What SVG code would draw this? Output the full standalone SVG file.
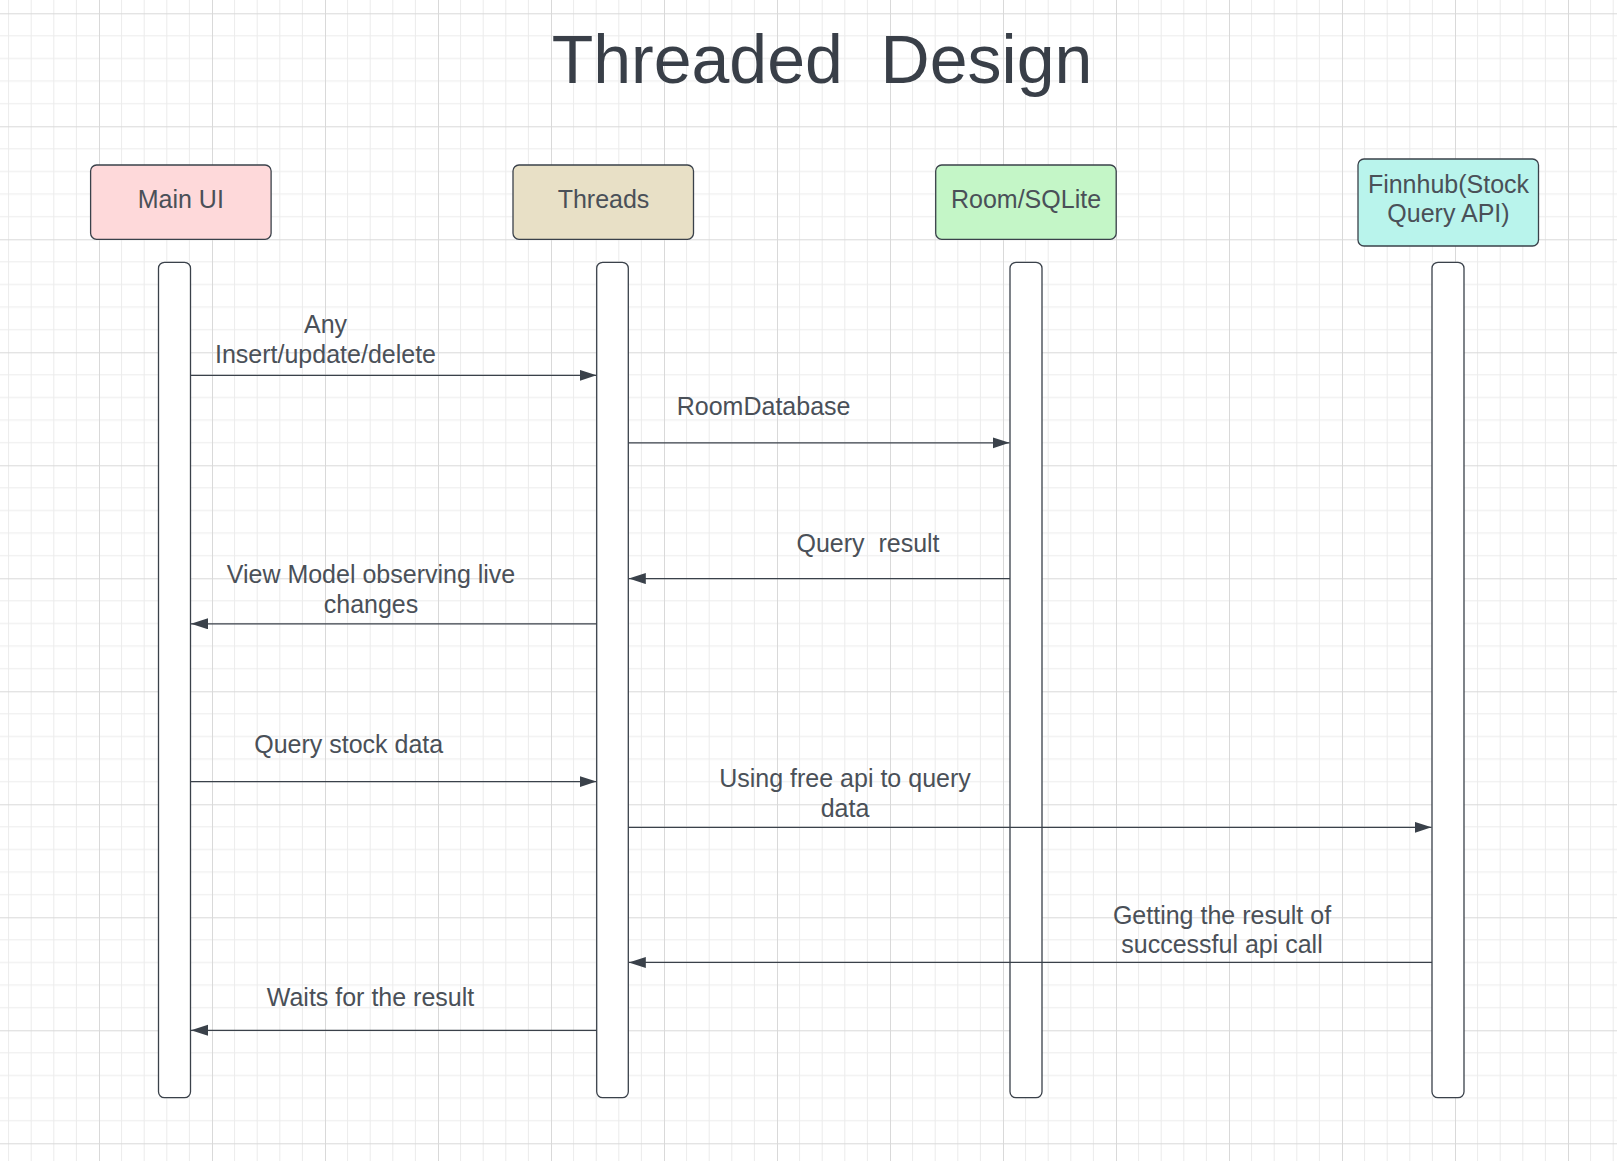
<svg xmlns="http://www.w3.org/2000/svg" width="1617" height="1161" viewBox="0 0 1617 1161">
<defs>
<pattern id="grid" patternUnits="userSpaceOnUse" x="99" y="13.3" width="113" height="113">
<path d="M22.6 0V113M45.2 0V113M67.8 0V113M90.4 0V113M0 22.6H113M0 45.2H113M0 67.8H113M0 90.4H113" stroke="#ebebeb" stroke-width="1" fill="none"/>
<path d="M0.5 0V113M0 0.5H113" stroke="#d9d9d9" stroke-width="1" fill="none"/>
</pattern>
<marker id="ah" markerUnits="userSpaceOnUse" markerWidth="18" markerHeight="12" refX="17" refY="5.5" orient="auto">
<path d="M0 0L17 5.5L0 11Z" fill="#3a414a"/>
</marker>
</defs>
<style>
.box{stroke:#3a414a;stroke-width:1.3}
.life{fill:#ffffff;stroke:#3a414a;stroke-width:1.3}
.lbl{font-family:"Liberation Sans",Arial,sans-serif;font-size:25px;fill:#4a5058;text-anchor:middle}
.title{font-family:"Liberation Sans",Arial,sans-serif;font-size:68px;fill:#393f48;text-anchor:middle;white-space:pre}
.msg{stroke:#3a414a;stroke-width:1.3;fill:none;marker-end:url(#ah)}
</style>
<rect width="1617" height="1161" fill="#ffffff"/>
<rect width="1617" height="1161" fill="url(#grid)"/>
<g id="title">
<text class="title" x="822" y="83.3" xml:space="preserve">Threaded  Design</text>
</g>
<g id="main-ui">
<rect class="box" x="90.6" y="165" width="180.5" height="74.3" rx="6" fill="#fed9da"/>
<text class="lbl" x="180.8" y="208.3">Main UI</text>
<rect class="life" x="158.5" y="262.3" width="32" height="835.4" rx="6"/>
</g>
<g id="threads">
<rect class="box" x="513" y="165" width="180.5" height="74.3" rx="6" fill="#e8e0c6"/>
<text class="lbl" x="603.5" y="208.3">Threads</text>
<rect class="life" x="596.7" y="262.3" width="31.6" height="835.4" rx="6"/>
</g>
<g id="room-sqlite">
<rect class="box" x="935.7" y="165" width="180.5" height="74.3" rx="6" fill="#c4f6c7"/>
<text class="lbl" x="1026" y="208.3">Room/SQLite</text>
<rect class="life" x="1010" y="262.3" width="32" height="835.4" rx="6"/>
</g>
<g id="finnhub">
<rect class="box" x="1358" y="159" width="180.5" height="87" rx="6" fill="#b9f4ec"/>
<text class="lbl" x="1448.5" y="192.8">Finnhub(Stock</text>
<text class="lbl" x="1448.5" y="221.7">Query API)</text>
<rect class="life" x="1432" y="262.3" width="32" height="835.4" rx="6"/>
</g>
<g id="connectors">
<path class="msg" d="M190.5 375.3H596.5"/>
<path class="msg" d="M628.3 442.8H1009.5"/>
<path class="msg" d="M1010 578.6H628.8"/>
<path class="msg" d="M596.7 623.8H191"/>
<path class="msg" d="M190.5 781.6H596.5"/>
<path class="msg" d="M628.3 827.3H1431.5"/>
<path class="msg" d="M1432 962.4H628.8"/>
<path class="msg" d="M596.7 1030.3H191"/>
</g>
<g id="labels">
<text class="lbl" x="325.5" y="333">Any</text>
<text class="lbl" x="325.5" y="362.7">Insert/update/delete</text>
<text class="lbl" x="763.6" y="415">RoomDatabase</text>
<text class="lbl" x="868" y="551.7" xml:space="preserve" style="white-space:pre">Query  result</text>
<text class="lbl" x="371" y="583.3">View Model observing live</text>
<text class="lbl" x="371" y="613.3">changes</text>
<text class="lbl" x="348.7" y="753.3">Query stock data</text>
<text class="lbl" x="845" y="787.3">Using free api to query</text>
<text class="lbl" x="845" y="816.7">data</text>
<text class="lbl" x="1222" y="924">Getting the result of</text>
<text class="lbl" x="1222" y="953.3">successful api call</text>
<text class="lbl" x="370.5" y="1005.7">Waits for the result</text>
</g>
</svg>
